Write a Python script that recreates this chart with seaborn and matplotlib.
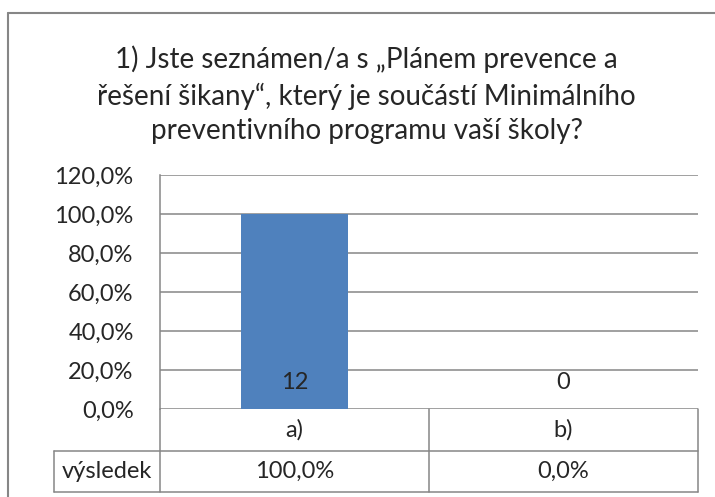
import matplotlib
matplotlib.use("Agg")
import matplotlib.pyplot as plt
import seaborn as sns
import pandas as pd
from matplotlib.lines import Line2D
from matplotlib.ticker import FuncFormatter

# data
categories = ["a)", "b)"]
shares = [1.0, 0.0]
counts = [12, 0]
row_name = "výsledek"
title = "1) Jste seznámen/a s „Plánem prevence a\nřešení šikany“, který je součástí Minimálního\npreventivního programu vaší školy?"

sns.set_style("white")
plt.rcParams['font.family'] = ['Lato', 'DejaVu Sans']

GRID = '#868686'
BAR = '#4F81BD'
FS = 17

df = pd.DataFrame({'cat': categories, 'share': shares, 'count': counts})

fig = plt.figure(figsize=(7.15, 4.97), dpi=100)
ax = fig.add_axes([0.2238, 0.1771, 0.7524, 0.4708])

sns.barplot(data=df, x='cat', y='share', color=BAR, width=0.4, saturation=1,
            linewidth=0, ax=ax)

ax.set_ylim(0, 1.2)
ax.set_xlim(-0.5, 1.5)
ax.set_yticks([0, 0.2, 0.4, 0.6, 0.8, 1.0, 1.2])
ax.yaxis.set_major_formatter(FuncFormatter(lambda v, p: f"{v*100:.1f}%".replace('.', ',')))
ax.tick_params(axis='y', length=0, pad=19, labelsize=FS)
ax.set_xticks([])
ax.set_xlabel('')
ax.set_ylabel('')
ax.set_axisbelow(True)
ax.grid(True, axis='y', color=GRID, linewidth=1.1)
for s in ['top', 'right', 'bottom']:
    ax.spines[s].set_visible(False)
ax.spines['left'].set_color(GRID)
ax.spines['left'].set_linewidth(1.1)

# data labels near the base of the bars
for i, c in enumerate(counts):
    ax.annotate(str(c), xy=(i, 0), xytext=(0, 19), textcoords='offset points',
                ha='center', va='center', fontsize=FS)

# data table under the axis
r1 = -0.1795
r2 = -0.3547
xl = -0.197
kw = dict(color=GRID, linewidth=1.1, transform=ax.transAxes, clip_on=False)
ax.add_line(Line2D([0, 0], [0, r2], **kw))
ax.add_line(Line2D([0.5, 0.5], [0, r2], **kw))
ax.add_line(Line2D([1, 1], [0, r2], **kw))
ax.add_line(Line2D([xl, 1], [r1, r1], **kw))
ax.add_line(Line2D([xl, 1], [r2, r2], **kw))
ax.add_line(Line2D([xl, xl], [r1, r2], **kw))

xtr = ax.get_xaxis_transform()
for i, (c, s) in enumerate(zip(categories, shares)):
    ax.text(i, r1 / 2, c, transform=xtr, ha='center', va='center', fontsize=FS)
    ax.text(i, (r1 + r2) / 2, f"{s*100:.1f}%".replace('.', ','), transform=xtr,
            ha='center', va='center', fontsize=FS)
ax.text(xl / 2, (r1 + r2) / 2, row_name, transform=ax.transAxes,
        ha='center', va='center', fontsize=FS)

# title
fig.text(0.513, 0.809, title, ha='center', va='center', fontsize=20, linespacing=1.42)

# chart frame
fig.add_artist(Line2D([8 / 715, 1], [1 - 13 / 497, 1 - 13 / 497], color=GRID, linewidth=1.5))
fig.add_artist(Line2D([8 / 715, 8 / 715], [1 - 13 / 497, 0], color=GRID, linewidth=1.5))

fig.savefig('out.png', dpi=100)
